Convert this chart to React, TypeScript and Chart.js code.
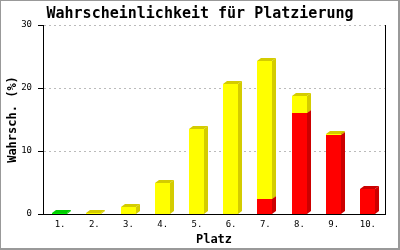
import { useEffect, useRef } from 'react';
import { Chart, registerables } from 'chart.js';

Chart.register(...registerables);

const categories = ['1.', '2.', '3.', '4.', '5.', '6.', '7.', '8.', '9.', '10.'];
const redValues = [0, 0, 0, 0, 0, 0, 2.4, 16.0, 12.6, 4.0];
const yellowValues = [0, 0.1, 1.1, 5.0, 13.5, 20.6, 21.9, 2.7, 0.1, 0];
const greenValues = [0.1, 0, 0, 0, 0, 0, 0, 0, 0, 0];
const yTickValues = [0, 10, 20, 30];

const faceColors = ['#ff0000', '#ffff00', '#00ee00'];
const sideColors = ['#cc0000', '#d4cc00', '#00cc00'];

const MONO = '"DejaVu Sans Mono", "Liberation Mono", monospace';

const framePlugin = {
  id: 'frame',
  beforeDraw(chart: any) {
    const ctx = chart.ctx;
    const w = chart.width;
    const h = chart.height;
    ctx.save();
    ctx.fillStyle = '#999999';
    ctx.fillRect(0, 0, w, h);
    ctx.fillStyle = '#ffffff';
    ctx.fillRect(1, 1, w - 3, h - 3);
    ctx.restore();
  },
};

const bar3dPlugin = {
  id: 'bar3d',
  afterDatasetsDraw(chart: any) {
    const ctx = chart.ctx;
    const dx = 4;
    const dy = 3;
    ctx.save();
    chart.data.datasets.forEach((ds: any, di: number) => {
      const meta = chart.getDatasetMeta(di);
      meta.data.forEach((el: any, i: number) => {
        const v = ds.data[i];
        if (!v) return;
        const p = el.getProps(['x', 'y', 'base', 'width'], true);
        const l = Math.floor(p.x - p.width / 2);
        const r = l + Math.round(p.width);
        const t = Math.round(p.y);
        const b = Math.round(p.base);
        ctx.fillStyle = faceColors[di];
        ctx.fillRect(l, t, r - l, b - t);
        ctx.fillStyle = sideColors[di];
        ctx.beginPath();
        ctx.moveTo(r, t);
        ctx.lineTo(r + dx, t - dy);
        ctx.lineTo(r + dx, b - dy);
        ctx.lineTo(r, b);
        ctx.closePath();
        ctx.fill();
        ctx.beginPath();
        ctx.moveTo(l, t);
        ctx.lineTo(l + dx, t - dy);
        ctx.lineTo(r + dx, t - dy);
        ctx.lineTo(r, t);
        ctx.closePath();
        ctx.fill();
      });
    });
    ctx.restore();
  },
};

export default function App() {
  const ref = useRef<HTMLCanvasElement>(null);

  useEffect(() => {
    document.body.style.margin = '0';
    const canvas = ref.current;
    if (!canvas) return;
    const chart = new Chart(canvas, {
      type: 'bar',
      data: {
        labels: categories,
        datasets: [
          { label: 'rot', data: redValues, backgroundColor: 'rgba(0,0,0,0)', borderWidth: 0 },
          { label: 'gelb', data: yellowValues, backgroundColor: 'rgba(0,0,0,0)', borderWidth: 0 },
          { label: 'grün', data: greenValues, backgroundColor: 'rgba(0,0,0,0)', borderWidth: 0 },
        ],
      },
      options: {
        animation: false,
        responsive: false,
        devicePixelRatio: 1,
        layout: { padding: { top: 0, left: 0, right: 0, bottom: 0 } },
        datasets: { bar: { barThickness: 15 } },
        plugins: {
          legend: { display: false },
          tooltip: { enabled: false },
          title: {
            display: true,
            text: 'Wahrscheinlichkeit für Platzierung',
            color: '#000000',
            font: { family: MONO, size: 15, weight: 'bold', lineHeight: 1.2 },
            padding: { top: 5, bottom: 2 },
          },
        },
        scales: {
          x: {
            stacked: true,
            grid: { display: false, drawTicks: false },
            border: { display: true, color: '#000000', width: 1 },
            ticks: {
              color: '#000000',
              padding: 5,
              font: { family: MONO, size: 9 },
              maxRotation: 0,
              autoSkip: false,
            },
            title: {
              display: true,
              text: 'Platz',
              color: '#000000',
              font: { family: MONO, size: 12, weight: 'bold', lineHeight: 1.2 },
              padding: { top: 0, bottom: 3 },
            },
            afterFit(scale: any) {
              scale.height = 36;
            },
          },
          y: {
            stacked: true,
            min: 0,
            max: 30,
            afterBuildTicks(scale: any) {
              scale.ticks = yTickValues.map((v) => ({ value: v }));
            },
            grid: {
              color: (c: any) => (c.tick && c.tick.value === 0 ? 'rgba(0,0,0,0)' : '#bbbbbb'),
              tickColor: '#000000',
              tickLength: 5,
              tickBorderDash: [],
              drawTicks: true,
            },
            border: { display: true, color: '#000000', width: 1, dash: [2, 3] },
            ticks: {
              color: '#000000',
              padding: 6,
              font: { family: MONO, size: 9 },
            },
            title: {
              display: true,
              text: 'Wahrsch. (%)',
              color: '#000000',
              font: { family: MONO, size: 12, weight: 'bold', lineHeight: 1.2 },
              padding: { top: 6, bottom: 0 },
            },
            afterFit(scale: any) {
              scale.width = 43;
            },
          },
          yRight: {
            position: 'right',
            min: 0,
            max: 30,
            grid: { display: false, drawTicks: false },
            ticks: { display: false },
            border: { display: true, color: '#000000', width: 1 },
            afterFit(scale: any) {
              scale.width = 15;
            },
          },
        },
      },
      plugins: [framePlugin, bar3dPlugin],
    } as any);
    return () => chart.destroy();
  }, []);

  return (
    <div style={{ width: 400, height: 250 }}>
      <canvas ref={ref} width={400} height={250} style={{ display: 'block' }} />
    </div>
  );
}
